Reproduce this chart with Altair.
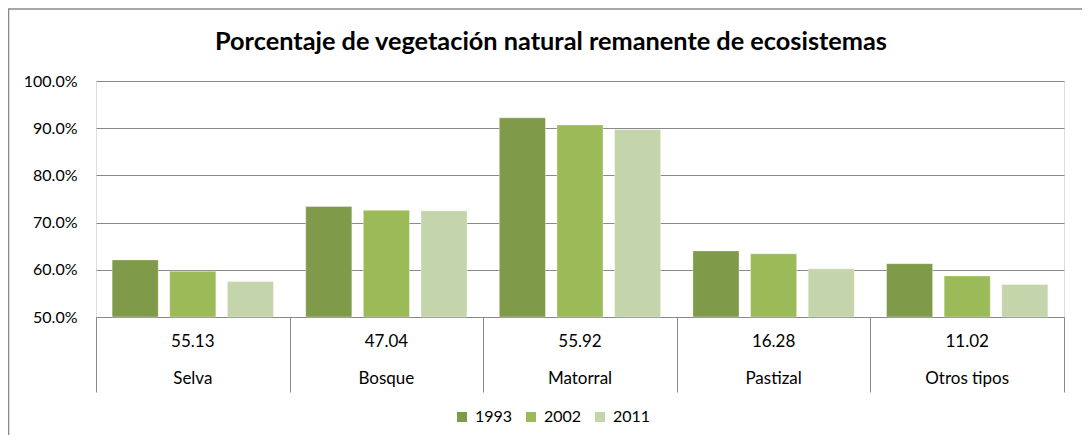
import altair as alt
import pandas as pd

categories = ["Selva", "Bosque", "Matorral", "Pastizal", "Otros tipos"]
area_labels = ["55.13", "47.04", "55.92", "16.28", "11.02"]
years = ["1993", "2002", "2011"]
v1993 = [0.621, 0.734, 0.922, 0.640, 0.613]
v2002 = [0.597, 0.726, 0.907, 0.634, 0.587]
v2011 = [0.575, 0.725, 0.897, 0.602, 0.569]
colors = ["#7F9A48", "#9BBB59", "#C5D5AB"]
title_text = "Porcentaje de vegetación natural remanente de ecosistemas"

rows = []
for yr, vals in zip(years, [v1993, v2002, v2011]):
    for c, v in zip(categories, vals):
        rows.append({"cat": c, "year": yr, "val": v})
df = pd.DataFrame(rows)
df_cat = pd.DataFrame({"cat": categories, "num": area_labels})

FONT = "Lato"
GRAY = "#898989"

xenc = alt.X("cat:N", sort=categories,
             scale=alt.Scale(paddingInner=0, paddingOuter=0),
             axis=alt.Axis(title=None, labels=False, ticks=True, tickBand="extent",
                           tickSize=75, tickColor=GRAY, domainColor=GRAY))

bars = alt.Chart(df).mark_bar(stroke="#ffffff", strokeOpacity=0.35, strokeWidth=1).encode(
    x=xenc,
    xOffset=alt.XOffset("year:N", sort=years,
                        scale=alt.Scale(paddingInner=0.2, paddingOuter=0.28)),
    y=alt.Y("val:Q", scale=alt.Scale(domain=[0.5, 1.0], zero=False, nice=False),
            axis=alt.Axis(title=None, format=".1%", values=[0.5, 0.6, 0.7, 0.8, 0.9, 1.0],
                          grid=True, gridColor=GRAY, domain=False, ticks=False,
                          labelPadding=19, labelFontSize=16, labelFont=FONT,
                          labelColor="#000000")),
    y2=alt.datum(0.5),
    color=alt.Color("year:N", sort=years,
                    scale=alt.Scale(domain=years, range=colors),
                    legend=alt.Legend(title=None, orient="none", direction="horizontal",
                                      legendX=358, legendY=328, symbolType="square",
                                      symbolSize=100, symbolStrokeWidth=0,
                                      labelFontSize=16, labelFont=FONT,
                                      labelColor="#000000", columnPadding=10,
                                      labelOffset=5, padding=0)),
)

nums = alt.Chart(df_cat).mark_text(fontSize=17, font=FONT, color="#000000",
                                   baseline="middle").encode(
    x=alt.X("cat:N", sort=categories), y=alt.value(261), text="num:N")
names = alt.Chart(df_cat).mark_text(fontSize=17, font=FONT, color="#000000",
                                    baseline="middle").encode(
    x=alt.X("cat:N", sort=categories), y=alt.value(298), text="cat:N")

title = alt.Chart(pd.DataFrame({"t": [title_text]})).mark_text(
    fontSize=25.3, font=FONT, fontWeight="bold", color="#000000",
    baseline="alphabetic", align="center").encode(
    x=alt.value(455), y=alt.value(-31), text="t:N")

border = alt.Chart(pd.DataFrame({"t": [1]})).mark_rect(
    fillOpacity=0, stroke=GRAY, strokeWidth=1.5).encode(
    x=alt.value(-87.5), y=alt.value(-72), x2=alt.value(1100), y2=alt.value(500))

chart = alt.layer(border, bars, nums, names, title).properties(
    width=968, height=236,
    autosize=alt.AutoSizeParams(type="none"),
    padding={"left": 88, "top": 73, "right": 18, "bottom": 118},
).configure_view(stroke=None).configure(background="#ffffff")

chart.save("out.html", embed_options={"renderer": "svg", "actions": False})
